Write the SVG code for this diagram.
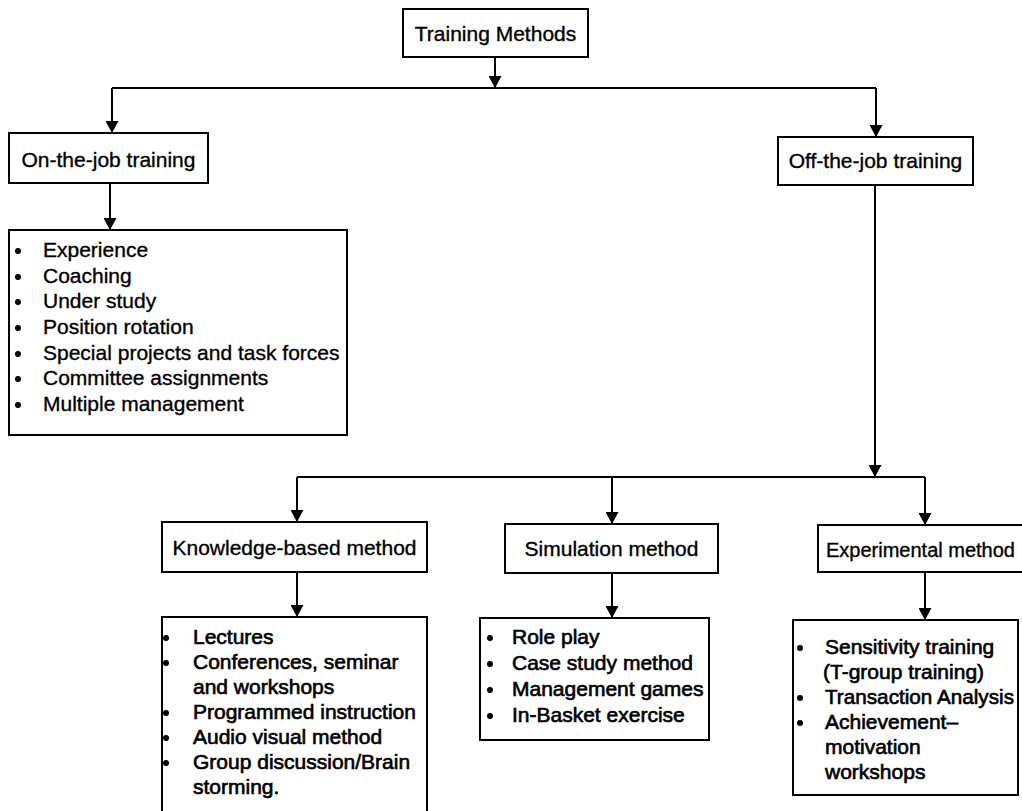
<svg xmlns="http://www.w3.org/2000/svg" width="1022" height="811" viewBox="0 0 1022 811">
  <style>
    .box { fill: #fff; stroke: #000; stroke-width: 2; }
    .lbl { font-family: "Liberation Sans", Arial, sans-serif; font-size: 21px; fill: #000; stroke: #000; stroke-width: 0.35; text-anchor: middle; }
    .item { font-family: "Liberation Sans", Arial, sans-serif; font-size: 21px; fill: #000; stroke: #000; stroke-width: 0.35; }
    .heavy .item { stroke-width: 0.65; }
    .dot { fill: #000; }
    .conn { fill: none; stroke: #000; stroke-width: 2; }
    .arr { marker-end: url(#head); }
  </style>
  <defs>
    <marker id="head" viewBox="0 0 12 13" markerWidth="12" markerHeight="13" refX="12" refY="6.5" orient="auto" markerUnits="userSpaceOnUse">
      <path d="M0,0 L12,6.5 L0,13 z" fill="#000"/>
    </marker>
  </defs>
  <rect width="1022" height="811" fill="#fff"/>

  <!-- connectors -->
  <g id="connectors">
    <path class="conn arr" d="M495,57 V88"/>
    <path class="conn" d="M112,88 H876"/>
    <path class="conn arr" d="M112,88 V133"/>
    <path class="conn arr" d="M876,88 V137"/>
    <path class="conn arr" d="M110,183 V230"/>
    <path class="conn arr" d="M875,185 V477"/>
    <path class="conn" d="M297,477 H925"/>
    <path class="conn arr" d="M297,477 V522"/>
    <path class="conn arr" d="M612,477 V524"/>
    <path class="conn arr" d="M925,477 V525"/>
    <path class="conn arr" d="M297,572 V617"/>
    <path class="conn arr" d="M612,573 V618"/>
    <path class="conn arr" d="M925,572 V620"/>
  </g>

  <!-- root -->
  <g id="training-methods">
    <rect class="box" x="403" y="9" width="185" height="48"/>
    <text class="lbl" x="495.5" y="40.5">Training Methods</text>
  </g>

  <!-- first level -->
  <g id="on-the-job">
    <rect class="box" x="9" y="133" width="199" height="50"/>
    <text class="lbl" x="108.5" y="167">On-the-job training</text>
  </g>
  <g id="off-the-job">
    <rect class="box" x="778" y="137" width="195" height="48"/>
    <text class="lbl" x="875.5" y="168">Off-the-job training</text>
  </g>

  <g id="on-the-job-list">
    <rect class="box" x="9" y="230" width="338" height="205"/>
    <circle class="dot" cx="18" cy="251" r="3"/>
    <circle class="dot" cx="18" cy="277" r="3"/>
    <circle class="dot" cx="18" cy="302" r="3"/>
    <circle class="dot" cx="18" cy="328" r="3"/>
    <circle class="dot" cx="18" cy="354" r="3"/>
    <circle class="dot" cx="18" cy="379" r="3"/>
    <circle class="dot" cx="18" cy="405" r="3"/>
    <text class="item" x="43" y="257">Experience</text>
    <text class="item" x="43" y="283">Coaching</text>
    <text class="item" x="43" y="308">Under study</text>
    <text class="item" x="43" y="334">Position rotation</text>
    <text class="item" x="43" y="360">Special projects and task forces</text>
    <text class="item" x="43" y="385">Committee assignments</text>
    <text class="item" x="43" y="411">Multiple management</text>
  </g>

  <!-- second level under off-the-job -->
  <g id="knowledge-based">
    <rect class="box" x="162" y="522" width="265" height="50"/>
    <text class="lbl" x="294.5" y="555">Knowledge-based method</text>
  </g>
  <g id="simulation">
    <rect class="box" x="505" y="524" width="213" height="49"/>
    <text class="lbl" x="611.5" y="556">Simulation method</text>
  </g>
  <g id="experimental">
    <rect class="box" x="818" y="525" width="220" height="47"/>
    <text class="item" x="826" y="557" style="font-size:20px">Experimental method</text>
  </g>

  <g id="knowledge-list" class="heavy">
    <rect class="box" x="162" y="617" width="265" height="210"/>
    <circle class="dot" cx="166" cy="638" r="3"/>
    <circle class="dot" cx="166" cy="663" r="3"/>
    <circle class="dot" cx="166" cy="713" r="3"/>
    <circle class="dot" cx="166" cy="738" r="3"/>
    <circle class="dot" cx="166" cy="763" r="3"/>
    <text class="item" x="193" y="644">Lectures</text>
    <text class="item" x="193" y="669">Conferences, seminar</text>
    <text class="item" x="193" y="694">and workshops</text>
    <text class="item" x="193" y="719">Programmed instruction</text>
    <text class="item" x="193" y="744">Audio visual method</text>
    <text class="item" x="193" y="769">Group discussion/Brain</text>
    <text class="item" x="193" y="794">storming.</text>
  </g>

  <g id="simulation-list" class="heavy">
    <rect class="box" x="480" y="618" width="229" height="122"/>
    <circle class="dot" cx="490" cy="638" r="3"/>
    <circle class="dot" cx="490" cy="664" r="3"/>
    <circle class="dot" cx="490" cy="690" r="3"/>
    <circle class="dot" cx="490" cy="716" r="3"/>
    <text class="item" x="512" y="644">Role play</text>
    <text class="item" x="512" y="670">Case study method</text>
    <text class="item" x="512" y="696">Management games</text>
    <text class="item" x="512" y="722">In-Basket exercise</text>
  </g>

  <g id="experimental-list" class="heavy">
    <rect class="box" x="793" y="620" width="225" height="175"/>
    <circle class="dot" cx="800" cy="648" r="3"/>
    <circle class="dot" cx="800" cy="698" r="3"/>
    <circle class="dot" cx="800" cy="723" r="3"/>
    <text class="item" x="825" y="654">Sensitivity training</text>
    <text class="item" x="823" y="679">(T-group training)</text>
    <text class="item" x="825" y="704" textLength="189" lengthAdjust="spacingAndGlyphs">Transaction Analysis</text>
    <text class="item" x="825" y="729">Achievement–</text>
    <text class="item" x="825" y="754">motivation</text>
    <text class="item" x="825" y="779">workshops</text>
  </g>
</svg>
